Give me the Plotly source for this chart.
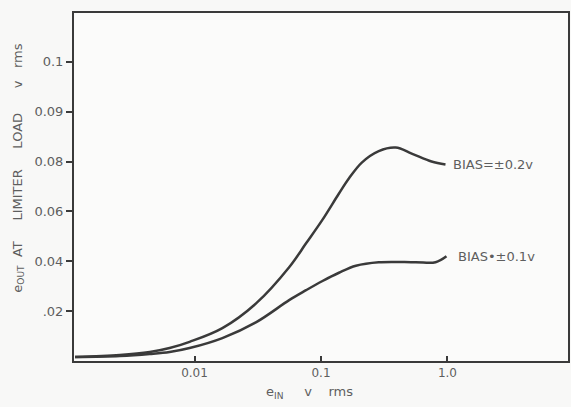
import math
import plotly.graph_objects as go

# Data (e_IN in v rms, e_OUT in v rms)
x_bias02 = [0.001135, 0.002566, 0.004426, 0.006353, 0.00914, 0.0166, 0.0308, 0.0560, 0.0762, 0.1019,
            0.1387, 0.1661, 0.2102, 0.2862, 0.3898, 0.5212, 0.748, 0.9645]
y_bias02 = [0.0016, 0.0024, 0.0036, 0.0052, 0.0077, 0.0132, 0.0232, 0.0376, 0.0472, 0.0564,
            0.0672, 0.0732, 0.0796, 0.0842, 0.0856, 0.0832, 0.0800, 0.0788]

x_bias01 = [0.001135, 0.002566, 0.004426, 0.006353, 0.00914, 0.0166, 0.0308, 0.0560, 0.0762, 0.1019,
            0.1387, 0.1888, 0.2862, 0.5601, 0.805, 0.982]
y_bias01 = [0.0016, 0.0020, 0.0028, 0.0036, 0.0052, 0.0092, 0.0156, 0.0244, 0.0284, 0.0320,
            0.0354, 0.0382, 0.0396, 0.0396, 0.0396, 0.0420]

x_tickvals = [0.01, 0.1, 1.0]
x_ticktext = ["0.01", "0.1", "1.0"]
y_tickvals = [0.02, 0.04, 0.06, 0.08, 0.10, 0.12]
y_ticktext = [".02", "0.04", "0.06", "0.08", "0.09", "0.1"]

labels = ["BIAS=±0.2v", "BIAS•±0.1v"]
label_x = [1.06, 1.16]

line_color = "#3a3a3a"
text_color = "#5e5e5e"
font_family = "DejaVu Sans, Liberation Sans, sans-serif"

fig = go.Figure()
for xs, ys in ((x_bias02, y_bias02), (x_bias01, y_bias01)):
    fig.add_trace(go.Scatter(x=xs, y=ys, mode="lines",
                             line=dict(color=line_color, width=2.5, shape="spline", smoothing=1.0),
                             showlegend=False, hoverinfo="skip"))

for lab, lx, ly in ((labels[0], label_x[0], y_bias02[-1]), (labels[1], label_x[1], y_bias01[-1])):
    fig.add_annotation(x=math.log10(lx), y=ly, xref="x", yref="y", text=lab,
                       showarrow=False, xanchor="left", yanchor="middle",
                       font=dict(size=13, color=text_color, family=font_family))

sp = "&nbsp;"
fig.add_annotation(text="e<sub>OUT</sub>" + sp * 2 + "AT" + sp * 5 + "LIMITER" + sp * 5 + "LOAD" + sp * 6 + "v" + sp * 3 + "rms",
                   xref="paper", yref="paper", x=-0.113, y=0.553, textangle=-90, showarrow=False,
                   xanchor="center", yanchor="middle",
                   font=dict(size=13, color=text_color, family=font_family))
fig.add_annotation(text="e<sub>IN</sub>" + sp * 5 + "v" + sp * 4 + "rms",
                   xref="paper", yref="paper", x=0.476, y=-0.09, showarrow=False,
                   xanchor="center", yanchor="middle",
                   font=dict(size=13, color=text_color, family=font_family))

fig.update_layout(
    width=571, height=407,
    margin=dict(l=74, r=1, t=13, b=46),
    paper_bgcolor="#f8f8f7",
    plot_bgcolor="#fbfbfa",
    font=dict(family=font_family, color=text_color, size=13),
    xaxis=dict(type="log", range=[-2.953, 0.953], tickvals=x_tickvals, ticktext=x_ticktext,
               showgrid=False, zeroline=False, showline=True, linecolor=line_color, linewidth=2,
               mirror=True, ticks="inside", ticklen=5, tickwidth=1.5, tickcolor=line_color,
               tickfont=dict(size=12, color=text_color)),
    yaxis=dict(range=[0, 0.1396], tickvals=y_tickvals, ticktext=y_ticktext,
               showgrid=False, zeroline=False, showline=True, linecolor=line_color, linewidth=2,
               mirror=True, ticks="outside", ticklen=6, tickwidth=1.5, tickcolor=line_color,
               tickfont=dict(size=13, color=text_color)),
)

fig.write_html("out.html", config={"displayModeBar": False},
               post_script="document.body.style.margin='0';document.body.style.background='#f8f8f7';")
